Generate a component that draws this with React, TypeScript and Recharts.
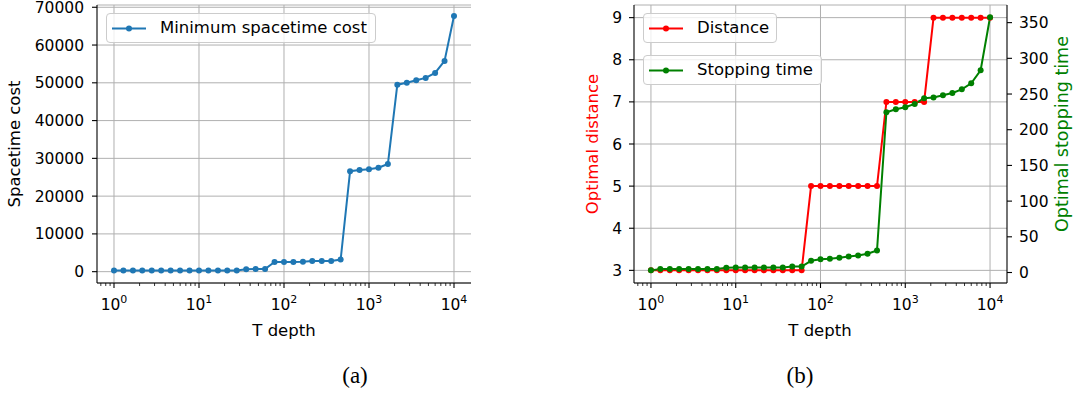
import React from 'react';
import { LineChart, Line, XAxis, YAxis, CartesianGrid, ReferenceLine, Legend } from 'recharts';

// T depth values (log spaced, 9 per decade)
const tDepth = [
  1, 1.29, 1.67, 2.15, 2.78, 3.59, 4.64, 5.99, 7.74,
  10, 12.9, 16.7, 21.5, 27.8, 35.9, 46.4, 59.9, 77.4,
  100, 129, 167, 215, 278, 359, 464, 599, 774,
  1000, 1292, 1668, 2154, 2783, 3594, 4642, 5995, 7743, 10000,
];

const spacetimeCost = [
  300, 300, 300, 300, 300, 300, 300, 300, 300,
  300, 300, 300, 300, 300, 650, 700, 700, 2550,
  2550, 2550, 2600, 2800, 2800, 2850, 3200, 26600, 26900,
  27100, 27500, 28500, 49500, 50000, 50700, 51300, 52600, 55800, 67700,
];

const optDistance = [
  3, 3, 3, 3, 3, 3, 3, 3, 3,
  3, 3, 3, 3, 3, 3, 3, 3, 5,
  5, 5, 5, 5, 5, 5, 5, 7, 7,
  7, 7, 7, 9, 9, 9, 9, 9, 9, 9,
];

const stopTime = [
  3, 5, 5, 5, 5, 5, 5, 5, 6.6,
  7, 7, 7, 7, 7, 7, 8.4, 8.4, 16.4,
  18.7, 19.2, 20.6, 22.4, 23.8, 26.2, 30.8, 224.5, 228.7,
  231.5, 236.2, 244.1, 245, 248.3, 251.5, 256.6, 265.1, 283.3, 357.5,
];

const majorTicks = [1, 10, 100, 1000, 10000];
const minorTicks = [
  0.7, 0.8, 0.9,
  2, 3, 4, 5, 6, 7, 8, 9,
  20, 30, 40, 50, 60, 70, 80, 90,
  200, 300, 400, 500, 600, 700, 800, 900,
  2000, 3000, 4000, 5000, 6000, 7000, 8000, 9000,
];
const costTicks = [0, 10000, 20000, 30000, 40000, 50000, 60000, 70000];
const distTicks = [3, 4, 5, 6, 7, 8, 9];
const timeTicks = [0, 50, 100, 150, 200, 250, 300, 350];

const leftData = tDepth.map((t, i) => ({ t, cost: spacetimeCost[i] }));
const rightData = tDepth.map((t, i) => ({ t, dist: optDistance[i], time: stopTime[i] }));

const FONT = '"DejaVu Sans", sans-serif';
const FS = 15.5;
const LFS = 16.5;
const X_DOMAIN = [0.631, 15849];
const allXTicks = [...minorTicks, ...majorTicks].sort((a, b) => a - b);

const LogTick = (props: any) => {
  const { x, y, payload } = props;
  const v = payload.value;
  const major = majorTicks.includes(v);
  const exp = Math.round(Math.log10(v));
  return (
    <g>
      <line x1={x} x2={x} y1={y} y2={y + (major ? 5 : 3)} stroke="#000" strokeWidth={major ? 1.1 : 0.8} />
      {major && (
        <text x={x} y={y + 27} textAnchor="middle" fontSize={FS} fontFamily={FONT} fill="#000">
          10<tspan dy={-7.5} fontSize={11}>{exp}</tspan>
        </text>
      )}
    </g>
  );
};

const vTitle = (text: string, x: number, y: number, color: string, fs = LFS) => () => (
  <text x={x} y={y} transform={`rotate(-90, ${x}, ${y})`} textAnchor="middle" fontSize={fs} fontFamily={FONT} fill={color}>
    {text}
  </text>
);

const hTitle = (text: string, x: number, y: number) => () => (
  <text x={x} y={y} textAnchor="middle" fontSize={LFS} fontFamily={FONT} fill="#000">
    {text}
  </text>
);

const LegendBox = ({ left, top, width, color, label }: any) => (
  <div style={{
    position: 'absolute', left, top, width, height: 30, boxSizing: 'border-box',
    border: '1px solid #cccccc', borderRadius: 4, background: 'rgba(255,255,255,0.8)',
  }}>
    <svg width={40} height={29} style={{ position: 'absolute', left: 5, top: 0 }}>
      <line x1={0} x2={34} y1={14.5} y2={14.5} stroke={color} strokeWidth={2} />
      <circle cx={17} cy={14.5} r={3} fill={color} />
    </svg>
    <span style={{
      position: 'absolute', left: 53, top: 4, fontFamily: FONT, fontSize: LFS, color: '#000', whiteSpace: 'nowrap',
    }}>{label}</span>
  </div>
);

const legendProps = {
  layout: 'horizontal' as const,
  verticalAlign: 'middle' as const,
  align: 'center' as const,
};

export default function App() {
  return (
    <div style={{ position: 'fixed', left: 0, top: 0, width: 1075, height: 398, background: '#fff', overflow: 'hidden' }}>
      <div style={{ position: 'absolute', left: 0, top: 0 }}>
        <LineChart width={490} height={345} data={leftData} margin={{ top: 5, right: 19, left: 0, bottom: 0 }}>
          <CartesianGrid yAxisId="l" vertical={false} stroke="#b0b0b0" strokeWidth={1} />
          <XAxis dataKey="t" type="number" scale="log" domain={X_DOMAIN} allowDataOverflow ticks={allXTicks}
            interval={0} tick={<LogTick />} tickLine={false} tickSize={0} tickMargin={0} height={62}
            axisLine={{ stroke: '#000', strokeWidth: 1.1 }}
            label={{ content: hTitle('T depth', 284, 336) }} />
          <XAxis xAxisId="top" dataKey="t" type="number" scale="log" domain={X_DOMAIN} allowDataOverflow
            orientation="top" height={0} tick={false} tickLine={false} axisLine={{ stroke: '#000', strokeWidth: 1.1 }} />
          <YAxis yAxisId="l" type="number" domain={[-3000, 70600]} allowDataOverflow ticks={costTicks} interval={0}
            width={97} tickSize={5} tickMargin={8} tick={{ fontSize: FS, fontFamily: FONT, fill: '#000' }}
            tickLine={{ stroke: '#000', strokeWidth: 1.1 }} axisLine={{ stroke: '#000', strokeWidth: 1.1 }}
            label={{ content: vTitle('Spacetime cost', 20, 144, '#000') }} />
          <YAxis yAxisId="r" orientation="right" type="number" domain={[-3000, 70600]} width={0} tick={false}
            tickLine={false} axisLine={{ stroke: '#000', strokeWidth: 1.1 }} />
          {majorTicks.map((v) => (
            <ReferenceLine key={v} x={v} yAxisId="l" stroke="#b0b0b0" strokeWidth={1} />
          ))}
          <Legend {...legendProps} wrapperStyle={{ left: 106, top: 13, width: 270, height: 30 }}
            content={() => (
              <div style={{ position: 'relative' }}>
                <LegendBox left={0} top={0} width={270} color="#1f77b4" label="Minimum spacetime cost" />
              </div>
            )} />
          <Line yAxisId="l" dataKey="cost" name="Minimum spacetime cost" stroke="#1f77b4" strokeWidth={2}
            dot={{ r: 3, fill: '#1f77b4', stroke: 'none' }} isAnimationActive={false} />
        </LineChart>
      </div>

      <div style={{ position: 'absolute', left: 520, top: 0 }}>
        <LineChart width={555} height={345} data={rightData} margin={{ top: 5, right: 0, left: 0, bottom: 0 }}>
          <CartesianGrid yAxisId="l" vertical={false} stroke="#b0b0b0" strokeWidth={1} />
          <XAxis dataKey="t" type="number" scale="log" domain={X_DOMAIN} allowDataOverflow ticks={allXTicks}
            interval={0} tick={<LogTick />} tickLine={false} tickSize={0} tickMargin={0} height={62}
            axisLine={{ stroke: '#000', strokeWidth: 1.1 }}
            label={{ content: hTitle('T depth', 300, 336) }} />
          <XAxis xAxisId="top" dataKey="t" type="number" scale="log" domain={X_DOMAIN} allowDataOverflow
            orientation="top" height={0} tick={false} tickLine={false} axisLine={{ stroke: '#000', strokeWidth: 1.1 }} />
          <YAxis yAxisId="l" type="number" domain={[2.7, 9.3]} allowDataOverflow ticks={distTicks} interval={0}
            width={114} tickSize={5} tickMargin={7} tick={{ fontSize: FS, fontFamily: FONT, fill: '#000' }}
            tickLine={{ stroke: '#000', strokeWidth: 1.1 }} axisLine={{ stroke: '#000', strokeWidth: 1.1 }}
            label={{ content: vTitle('Optimal distance', 78, 144, '#ff0000') }} />
          <YAxis yAxisId="r" orientation="right" type="number" domain={[-14.7, 374.7]} allowDataOverflow
            ticks={timeTicks} interval={0} width={68} tickSize={5} tickMargin={7}
            tick={{ fontSize: FS, fontFamily: FONT, fill: '#000' }}
            tickLine={{ stroke: '#000', strokeWidth: 1.1 }} axisLine={{ stroke: '#000', strokeWidth: 1.1 }}
            label={{ content: vTitle('Optimal stopping time', 548, 134, '#008000', 17.5) }} />
          {majorTicks.map((v) => (
            <ReferenceLine key={v} x={v} yAxisId="l" stroke="#b0b0b0" strokeWidth={1} />
          ))}
          <Legend {...legendProps} wrapperStyle={{ left: 123, top: 13, width: 180, height: 72 }}
            content={() => (
              <div style={{ position: 'relative' }}>
                <LegendBox left={0} top={0} width={134} color="#ff0000" label="Distance" />
                <LegendBox left={0} top={42} width={179} color="#008000" label="Stopping time" />
              </div>
            )} />
          <Line yAxisId="l" dataKey="dist" name="Distance" stroke="#ff0000" strokeWidth={2}
            dot={{ r: 3, fill: '#ff0000', stroke: 'none' }} isAnimationActive={false} />
          <Line yAxisId="r" dataKey="time" name="Stopping time" stroke="#008000" strokeWidth={2}
            dot={{ r: 3, fill: '#008000', stroke: 'none' }} isAnimationActive={false} />
        </LineChart>
      </div>

      <div style={{ position: 'absolute', left: 335, top: 363, width: 40, textAlign: 'center', fontFamily: '"Liberation Serif", serif', fontSize: 23 }}>(a)</div>
      <div style={{ position: 'absolute', left: 780, top: 363, width: 40, textAlign: 'center', fontFamily: '"Liberation Serif", serif', fontSize: 23 }}>(b)</div>
    </div>
  );
}
